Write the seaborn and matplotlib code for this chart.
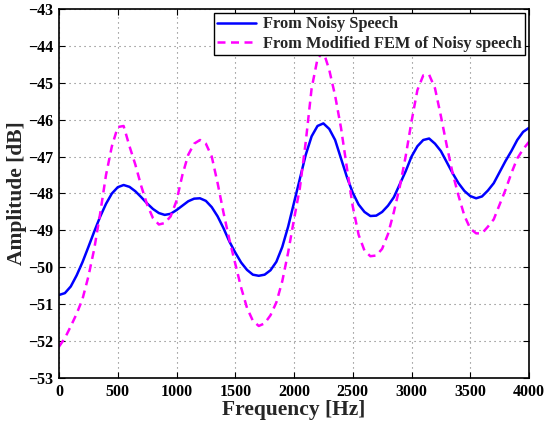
import numpy as np
import pandas as pd
import matplotlib
matplotlib.use("Agg")
import matplotlib.pyplot as plt
import seaborn as sns

# Frequency grid (Hz) read every 50 Hz
freq = list(range(0, 4001, 50))

noisy = [
    -50.75, -50.70, -50.52, -50.22, -49.86, -49.45, -49.03, -48.63, -48.28, -48.00,
    -47.83, -47.77, -47.82, -47.94, -48.10, -48.27, -48.42, -48.53, -48.58, -48.55,
    -48.45, -48.33, -48.21, -48.14, -48.13, -48.20, -48.37, -48.62, -48.94, -49.30,
    -49.60, -49.87, -50.07, -50.20, -50.23, -50.20, -50.08, -49.85, -49.45, -48.90,
    -48.25, -47.60, -46.95, -46.45, -46.17, -46.10, -46.25, -46.55, -47.05, -47.55,
    -47.98, -48.30, -48.50, -48.61, -48.60, -48.50, -48.33, -48.10, -47.75, -47.40,
    -47.00, -46.72, -46.55, -46.51, -46.65, -46.85, -47.15, -47.45, -47.72, -47.93,
    -48.07, -48.13, -48.08, -47.92, -47.72, -47.42, -47.12, -46.85, -46.55, -46.33,
    -46.22,
]

modified = [
    -52.15, -51.92, -51.60, -51.26, -50.86, -50.25, -49.50, -48.55, -47.50, -46.72,
    -46.20, -46.17, -46.72, -47.22, -47.80, -48.30, -48.67, -48.84, -48.80, -48.62,
    -48.20, -47.50, -46.95, -46.65, -46.55, -46.65, -47.00, -47.72, -48.52, -49.25,
    -49.90, -50.55, -51.10, -51.45, -51.59, -51.52, -51.30, -50.95, -50.38, -49.60,
    -48.70, -47.85, -46.60, -45.15, -44.35, -44.15, -44.65, -45.35, -46.22, -47.30,
    -48.35, -49.12, -49.55, -49.70, -49.68, -49.50, -49.10, -48.50, -47.82, -47.00,
    -46.05, -45.20, -44.80, -44.78, -45.15, -45.90, -46.70, -47.45, -48.06, -48.60,
    -48.95, -49.08, -49.08, -48.90, -48.70, -48.30, -47.90, -47.45, -47.05, -46.80,
    -46.60,
]

series_names = ["From Noisy Speech", "From Modified FEM of Noisy speech"]
x_ticks = [0, 500, 1000, 1500, 2000, 2500, 3000, 3500, 4000]
y_ticks = [-53, -52, -51, -50, -49, -48, -47, -46, -45, -44, -43]

df = pd.DataFrame({
    "Frequency": freq * 2,
    "Amplitude": noisy + modified,
    "Series": [series_names[0]] * len(freq) + [series_names[1]] * len(freq),
})

sns.set_theme(style="white")
plt.rcParams["font.family"] = ["Liberation Serif", "DejaVu Serif"]
plt.rcParams["font.weight"] = "bold"
plt.rcParams["axes.unicode_minus"] = True

fig = plt.figure(figsize=(5.46, 4.28), dpi=100)
ax = fig.add_axes([59 / 546, 1 - 378 / 428, 470 / 546, 369 / 428])

sns.lineplot(
    data=df, x="Frequency", y="Amplitude", hue="Series", style="Series",
    palette={series_names[0]: "#0000ff", series_names[1]: "#ff00ff"},
    dashes={series_names[0]: "", series_names[1]: (3.2, 2.2)},
    linewidth=1.8, ax=ax, sort=False, estimator=None,
)

ax.set_xlim(0, 4000)
ax.set_ylim(-53, -43)
ax.set_xticks(x_ticks)
ax.set_yticks(y_ticks)
ax.set_xticklabels([str(t) for t in x_ticks], fontsize=11.5, fontweight="bold")
ax.set_yticklabels([f"\u2212{abs(t)}" for t in y_ticks], fontsize=11.5, fontweight="bold")
ax.tick_params(direction="in", length=4, width=0.8, top=True, right=True,
               bottom=True, left=True, pad=4, colors="black")
ax.grid(True, linestyle=(0, (1, 3.5)), color="#777777", linewidth=0.8)
for sp in ax.spines.values():
    sp.set_color("black")
    sp.set_linewidth(1.2)

ax.set_xlabel("Frequency [Hz]", fontsize=15.5, fontweight="bold", labelpad=0)
ax.set_ylabel("Amplitude [dB]", fontsize=15.5, fontweight="bold", labelpad=1)

leg = ax.legend(loc="upper right", fontsize=11.8, frameon=True, fancybox=False,
                borderaxespad=0.25, handlelength=2.4, handletextpad=0.4,
                borderpad=0.2, labelspacing=0.2, framealpha=1)
leg.get_frame().set_edgecolor("black")
leg.get_frame().set_linewidth(1.0)
for t in leg.get_texts():
    t.set_fontweight("bold")
leg.set_zorder(5)

fig.savefig("out.png", dpi=100)
